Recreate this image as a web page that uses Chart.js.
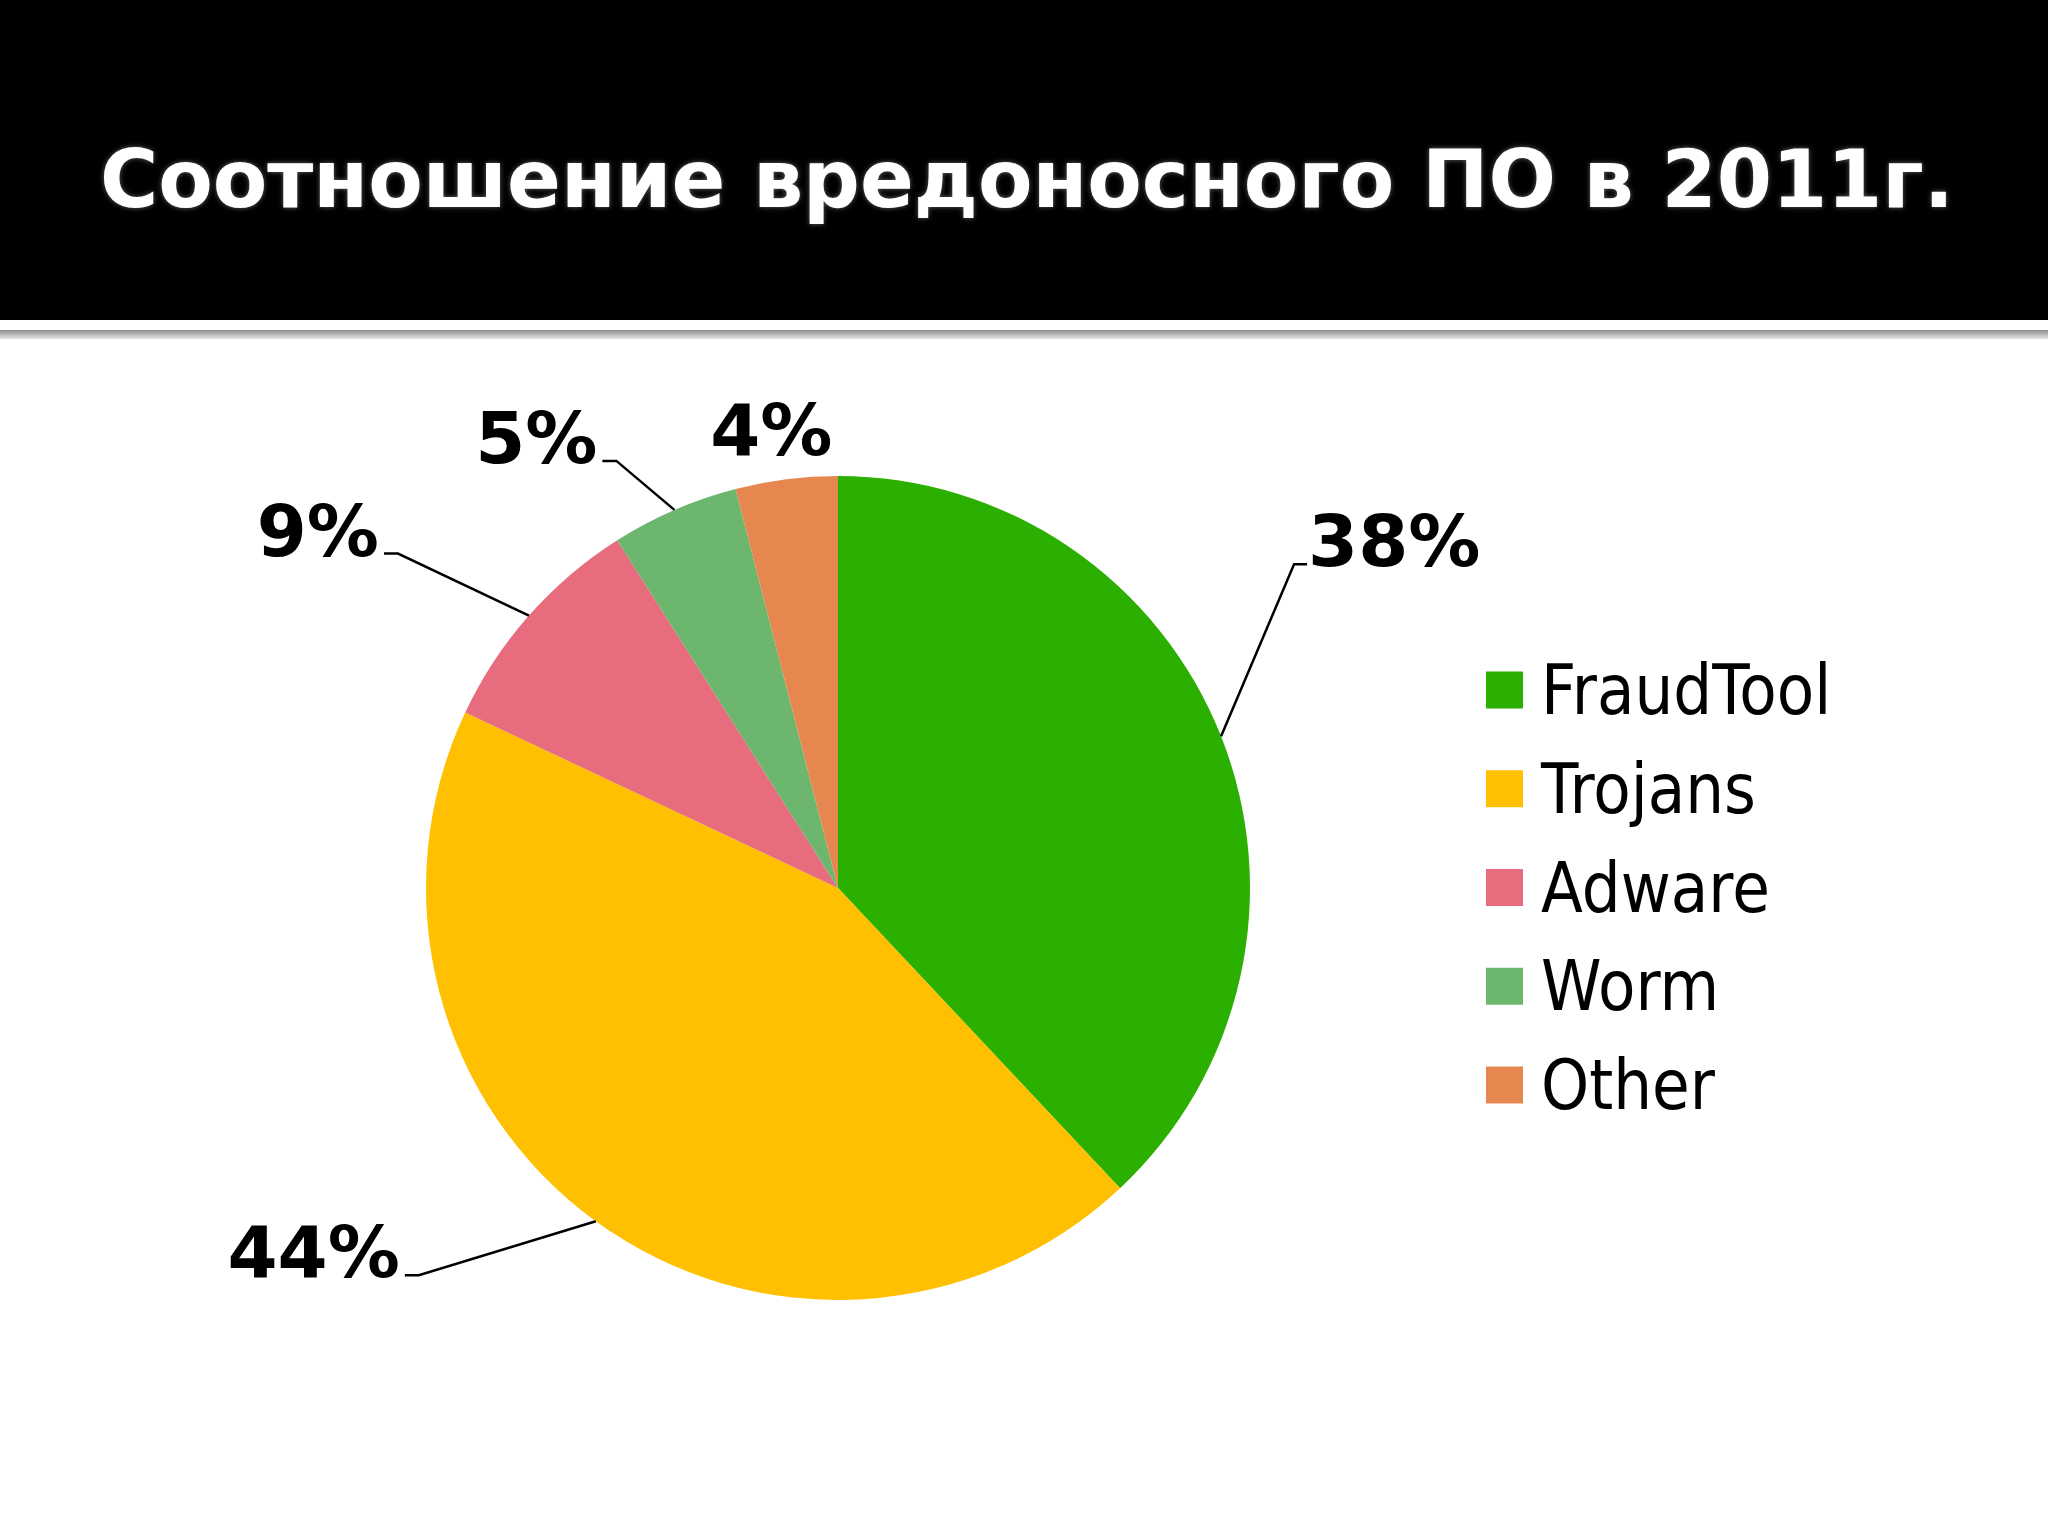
<!DOCTYPE html>
<html lang="ru">
<head>
<meta charset="utf-8">
<title>Соотношение вредоносного ПО в 2011г.</title>
<script src="https://cdn.jsdelivr.net/npm/chart.js@4.4.1/dist/chart.umd.min.js"></script>
<style>
  html, body { margin: 0; padding: 0; background: #fff; }
  #wrap { width: 2048px; height: 1536px; }
</style>
</head>
<body>
<div id="wrap"><canvas id="chart-malware" width="2048" height="1536"></canvas></div>
<script>
// --- datos ---
const chartTitle = 'Соотношение вредоносного ПО в 2011г.';
const categories = ['FraudTool', 'Trojans', 'Adware', 'Worm', 'Other'];
const shares = [38, 44, 9, 5, 4];
const sliceColors = ['#2baf00', '#fec000', '#e66c7e', '#6cb66e', '#e6874f'];

// where each % label sits, relative to the slice's mid point on the rim
const labelPlacement = [
    { dx: 73, dy: -172, side: 'right' },
    { dx: -177, dy: 54, side: 'left' },
    { dx: -131, dy: -62, side: 'left' },
    { dx: -58, dy: -49, side: 'left' },
    { dx: -15, dy: -24, side: 'none' }
];

// black header band + title
const headerPlugin = {
    id: 'header',
    beforeDraw(chart) {
        const ctx = chart.ctx;
        ctx.save();
        ctx.fillStyle = '#fff';
        ctx.fillRect(0, 0, chart.width, chart.height);
        ctx.fillStyle = '#000';
        ctx.fillRect(0, 0, chart.width, 320);

        // thin grey rule under the band
        const grad = ctx.createLinearGradient(0, 330, 0, 339);
        grad.addColorStop(0, '#8c8c8c');
        grad.addColorStop(1, '#e6e6e6');
        ctx.fillStyle = grad;
        ctx.fillRect(0, 330, chart.width, 9);

        ctx.font = 'bold 81px "DejaVu Sans"';
        const w = ctx.measureText(chartTitle).width;
        ctx.translate(100, 207);
        ctx.scale(1854 / w, 1);
        ctx.shadowColor = 'rgba(220,220,220,0.45)';
        ctx.shadowBlur = 5;
        ctx.fillStyle = '#fff';
        ctx.fillText(chartTitle, 0, 0);
        ctx.restore();
    }
};

// % labels with leader lines
const pctLabelsPlugin = {
    id: 'pctLabels',
    afterDatasetsDraw(chart) {
        const ctx = chart.ctx;
        const meta = chart.getDatasetMeta(0);
        ctx.save();
        ctx.font = 'bold 72px "DejaVu Sans"';
        ctx.fillStyle = '#000';
        ctx.strokeStyle = '#000';
        ctx.lineWidth = 2.5;
        meta.data.forEach((arc, i) => {
            const p = arc.getProps(['x', 'y', 'startAngle', 'endAngle', 'outerRadius'], true);
            const mid = (p.startAngle + p.endAngle) / 2;
            const ex = p.x + Math.cos(mid) * p.outerRadius;
            const ey = p.y + Math.sin(mid) * p.outerRadius;
            const pl = labelPlacement[i];
            const bx = ex + pl.dx;
            const by = ey + pl.dy;
            const txt = shares[i] + '%';

            if (pl.side === 'none') {
                ctx.textAlign = 'center';
                ctx.fillText(txt, bx, by);
                return;
            }
            const tail = pl.side === 'right' ? 13 : -14;
            ctx.beginPath();
            ctx.moveTo(ex, ey);
            ctx.lineTo(bx, by);
            ctx.lineTo(bx + tail, by);
            ctx.stroke();

            if (pl.side === 'right') {
                ctx.textAlign = 'left';
                ctx.fillText(txt, bx + 14, by + 2);
            } else {
                ctx.textAlign = 'right';
                ctx.fillText(txt, bx - 19, by + 2);
            }
        });
        ctx.restore();
    }
};

// legend on the right, built from the chart data
const sideLegendPlugin = {
    id: 'sideLegend',
    afterDraw(chart) {
        const ctx = chart.ctx;
        const labels = chart.data.labels;
        const colors = chart.data.datasets[0].backgroundColor;
        ctx.save();
        ctx.font = '70px "DejaVu Sans"';
        ctx.textAlign = 'left';
        labels.forEach((lbl, i) => {
            const cy = 690 + i * 98.75;
            ctx.fillStyle = colors[i];
            ctx.fillRect(1486, cy - 18.5, 37, 37);
            ctx.fillStyle = '#000';
            ctx.save();
            ctx.translate(1541, cy + 24);
            ctx.scale(0.875, 1);
            ctx.fillText(lbl, 0, 0);
            ctx.restore();
        });
        ctx.restore();
    }
};

new Chart(document.getElementById('chart-malware').getContext('2d'), {
    type: 'pie',
    data: {
        labels: categories,
        datasets: [{
            data: shares,
            backgroundColor: sliceColors,
            borderWidth: 0,
            hoverBorderWidth: 0,
            hoverOffset: 0
        }]
    },
    options: {
        responsive: false,
        animation: false,
        devicePixelRatio: 1,
        events: [],
        layout: { padding: { top: 476, bottom: 236, left: 426, right: 798 } },
        plugins: {
            legend: { display: false },
            title: { display: false },
            tooltip: { enabled: false }
        }
    },
    plugins: [headerPlugin, pctLabelsPlugin, sideLegendPlugin]
});
</script>
</body>
</html>
